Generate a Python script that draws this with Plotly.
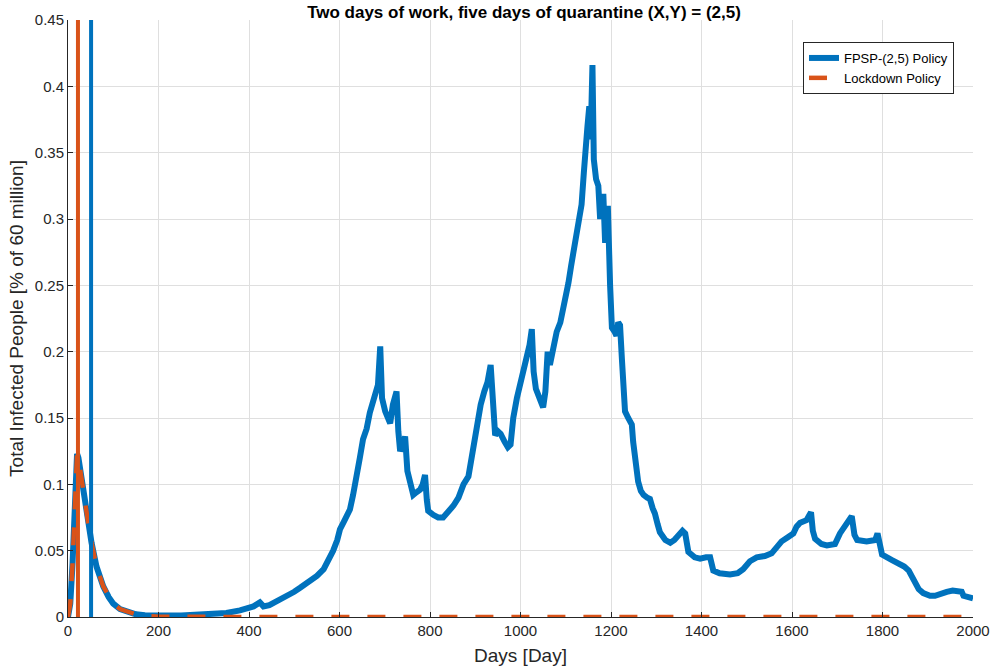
import plotly.graph_objects as go

# ---- data ----
fpsp_days = [0, 5, 10, 15, 20, 23, 30, 37, 45, 52, 63, 78, 90, 100, 115, 130, 150, 170, 200,
             250, 300, 350, 380, 410, 424, 432, 445, 470, 500, 513, 530, 550, 565, 575, 586,
             595, 601, 610, 623, 630, 638, 645, 652, 660, 667, 672, 678, 685, 690, 694, 701,
             707, 712, 718, 726, 730, 734, 740, 745, 750, 755, 763, 770, 778, 784, 789, 793,
             796, 807, 818, 829, 840, 852, 863, 874, 885, 892, 898, 905, 912, 920, 927, 934,
             940, 944, 950, 956, 965, 972, 978, 984, 992, 1000, 1006, 1013, 1020, 1025, 1029,
             1034, 1042, 1050, 1055, 1060, 1065, 1072, 1080, 1088, 1095, 1100, 1106, 1112,
             1117, 1124, 1130, 1135, 1140, 1143, 1148, 1152, 1155, 1159, 1162, 1167, 1172,
             1176, 1180, 1183, 1187, 1190, 1193, 1198, 1202, 1208, 1212, 1216, 1220, 1224,
             1231, 1238, 1243, 1246, 1249, 1255, 1260, 1266, 1272, 1280, 1286, 1292, 1297,
             1303, 1308, 1320, 1331, 1340, 1350, 1358, 1364, 1371, 1385, 1397, 1410, 1419,
             1426, 1440, 1463, 1480, 1492, 1507, 1522, 1540, 1555, 1565, 1577, 1590, 1603,
             1610, 1618, 1632, 1642, 1646, 1651, 1665, 1677, 1695, 1706, 1720, 1732, 1738,
             1744, 1765, 1784, 1789, 1794, 1799, 1820, 1839, 1848, 1858, 1865, 1872, 1880,
             1890, 1905, 1916, 1930, 1942, 1955, 1971, 1975, 1979, 1990, 2000]
fpsp_vals = [0.0, 0.01, 0.04, 0.085, 0.123, 0.12, 0.103, 0.088, 0.07, 0.056, 0.038, 0.023,
             0.015, 0.010, 0.006, 0.004, 0.002, 0.0013, 0.001,
             0.0012, 0.002, 0.003, 0.005, 0.008, 0.011, 0.008, 0.009, 0.013, 0.019, 0.022,
             0.026, 0.031, 0.036, 0.042, 0.05,
             0.058, 0.066, 0.072, 0.081, 0.092, 0.111, 0.12, 0.134, 0.142, 0.154, 0.16, 0.167,
             0.175, 0.204, 0.165, 0.155,
             0.15, 0.146, 0.16, 0.170, 0.14, 0.125, 0.13, 0.136, 0.11, 0.102, 0.092, 0.094,
             0.096, 0.1, 0.107, 0.088,
             0.08, 0.077, 0.075, 0.075, 0.079, 0.084, 0.09, 0.1, 0.106, 0.12, 0.135, 0.148,
             0.16, 0.17, 0.177, 0.19,
             0.155, 0.137, 0.14, 0.138, 0.132, 0.128, 0.13, 0.15, 0.165, 0.175, 0.182, 0.195,
             0.205, 0.217, 0.185,
             0.172, 0.165, 0.158, 0.17, 0.2, 0.19, 0.205, 0.215, 0.222, 0.232, 0.24, 0.252,
             0.265,
             0.276, 0.293, 0.3, 0.311, 0.335, 0.355, 0.37, 0.385, 0.36, 0.416, 0.345, 0.33,
             0.325,
             0.3, 0.31, 0.319, 0.282, 0.3, 0.31, 0.25, 0.218, 0.215, 0.212, 0.222, 0.22, 0.195,
             0.155, 0.15, 0.147, 0.145, 0.132, 0.115, 0.102, 0.095, 0.092, 0.09, 0.089, 0.082,
             0.078,
             0.07, 0.064, 0.058, 0.056, 0.058, 0.062, 0.065, 0.063, 0.049, 0.045, 0.044, 0.045,
             0.045,
             0.035, 0.033, 0.032, 0.033, 0.036, 0.042, 0.045, 0.046, 0.048, 0.052, 0.057, 0.06,
             0.063,
             0.068, 0.071, 0.073, 0.079, 0.065, 0.059, 0.055, 0.054, 0.055, 0.063, 0.07, 0.076,
             0.062,
             0.058, 0.057, 0.058, 0.063, 0.052, 0.047, 0.043, 0.040, 0.038, 0.035, 0.03, 0.025,
             0.021,
             0.018, 0.016, 0.016, 0.018, 0.019, 0.02, 0.02, 0.019, 0.016, 0.015, 0.014]

lockdown_days = [0, 5, 10, 15, 20, 23, 30, 37, 45, 52, 63, 78, 90, 100, 115, 130, 150, 170,
                 200, 400, 600, 800, 1000, 1200, 1400, 1600, 1800, 2000]
lockdown_vals = [0.0, 0.01, 0.04, 0.085, 0.123, 0.12, 0.103, 0.088, 0.07, 0.056, 0.038, 0.023,
                 0.015, 0.010, 0.006, 0.004, 0.002, 0.0008,
                 0.0002, 0.0, 0.0, 0.0, 0.0, 0.0, 0.0, 0.0, 0.0, 0.0]

# vertical marker lines (day positions)
lockdown_marker_day = 22
fpsp_marker_day = 51

x_ticks = [0, 200, 400, 600, 800, 1000, 1200, 1400, 1600, 1800, 2000]
y_ticks = [0, 0.05, 0.1, 0.15, 0.2, 0.25, 0.3, 0.35, 0.4, 0.45]
y_tick_text = ["0", "0.05", "0.1", "0.15", "0.2", "0.25", "0.3", "0.35", "0.4", "0.45"]

BLUE = "#0072BD"
ORANGE = "#D95319"
Y_MAX = 0.45
FONT = "Liberation Sans, Arial, Helvetica, sans-serif"

fig = go.Figure()
fig.add_trace(go.Scatter(x=fpsp_days, y=fpsp_vals, mode="lines",
                         name="FPSP-(2,5) Policy",
                         line=dict(color=BLUE, width=6)))
fig.add_trace(go.Scatter(x=lockdown_days, y=lockdown_vals, mode="lines",
                         name="Lockdown Policy",
                         line=dict(color=ORANGE, width=4.5, dash="18px,18px")))
fig.add_trace(go.Scatter(x=[lockdown_marker_day, lockdown_marker_day], y=[0, Y_MAX],
                         mode="lines", showlegend=False, hoverinfo="skip",
                         line=dict(color=ORANGE, width=4)))
fig.add_trace(go.Scatter(x=[fpsp_marker_day, fpsp_marker_day], y=[0, Y_MAX],
                         mode="lines", showlegend=False, hoverinfo="skip",
                         line=dict(color=BLUE, width=4)))

tick_font = dict(family=FONT, size=15, color="#262626")
label_font = dict(family=FONT, size=19, color="#262626")

fig.update_layout(
    width=990, height=666,
    margin=dict(l=68, r=17, t=20, b=49, autoexpand=False),
    paper_bgcolor="white", plot_bgcolor="white",
    title=dict(text="<b>Two days of work, five days of quarantine (X,Y) = (2,5)</b>",
               x=524 / 990, xanchor="center", y=1 - 12 / 666, yanchor="middle",
               font=dict(family=FONT, size=17, color="black")),
    font=tick_font,
    showlegend=True,
    legend=dict(x=(954 - 68) / 905, y=(617 - 42) / 597, xanchor="right", yanchor="top",
                bgcolor="white", bordercolor="#262626", borderwidth=1,
                font=dict(family=FONT, size=13, color="black"),
                tracegroupgap=0, itemwidth=30),
)
fig.update_xaxes(range=[0, 2000], tickvals=x_ticks, ticks="inside", ticklen=5,
                 tickcolor="#262626", showline=True, linecolor="#262626", linewidth=1,
                 showgrid=True, gridcolor="#dfdfdf", gridwidth=1, zeroline=False,
                 tickfont=tick_font, automargin=False,
                 title=dict(text="Days [Day]", font=label_font))
fig.update_yaxes(range=[0, Y_MAX], tickvals=y_ticks, ticktext=y_tick_text, ticks="inside",
                 ticklen=5, tickcolor="#262626", showline=True, linecolor="#262626",
                 linewidth=1, showgrid=True, gridcolor="#dfdfdf", gridwidth=1, zeroline=False,
                 tickfont=tick_font, automargin=False,
                 title=dict(text="Total Infected People [% of 60 million]", font=label_font,
                            standoff=6))

fig.write_html("out.html", config={"displayModeBar": False},
               post_script="document.body.style.margin='0';document.body.style.overflow='hidden';")
